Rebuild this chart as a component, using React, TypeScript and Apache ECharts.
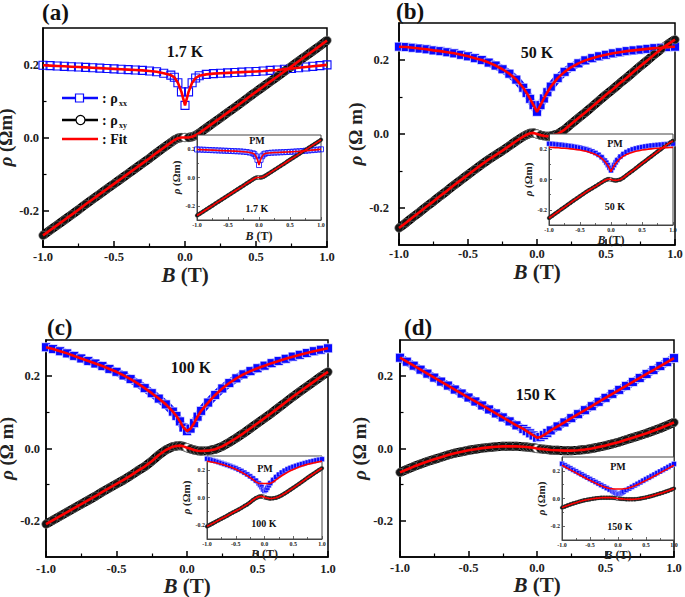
import React, { useEffect, useRef } from "react";
import * as echarts from "echarts";

const SERIF = "'Liberation Serif', 'Times New Roman', 'DejaVu Serif', serif";
const BLUE = "#0a0aff";
const RED = "#ff0000";

// Magnetic field grid (T)
const B = [-1, -0.95, -0.9, -0.85, -0.8, -0.75, -0.7, -0.65, -0.6, -0.55, -0.5, -0.45, -0.4, -0.35, -0.3, -0.25, -0.2, -0.15, -0.1,
  -0.075, -0.05, -0.025, 0, 0.025, 0.05, 0.075,
  0.1, 0.15, 0.2, 0.25, 0.3, 0.35, 0.4, 0.45, 0.5, 0.55, 0.6, 0.65, 0.7, 0.75, 0.8, 0.85, 0.9, 0.95, 1];

// (a) 1.7 K
const rxxA = [0.198, 0.197, 0.196, 0.195, 0.194, 0.193, 0.192, 0.191, 0.190, 0.189, 0.188, 0.187, 0.186, 0.185, 0.184, 0.182, 0.180, 0.176, 0.171,
  0.165, 0.150, 0.125, 0.088, 0.125, 0.150, 0.163,
  0.169, 0.173, 0.175, 0.176, 0.177, 0.178, 0.179, 0.180, 0.181, 0.182, 0.184, 0.185, 0.187, 0.189, 0.191, 0.193, 0.195, 0.197, 0.199];
const rxyA = [-0.268, -0.254, -0.240, -0.226, -0.212, -0.198, -0.183, -0.169, -0.155, -0.141, -0.127, -0.113, -0.099, -0.085, -0.071, -0.057, -0.042, -0.028, -0.014,
  -0.007, -0.002, 0.000, 0.000, 0.000, 0.002, 0.006,
  0.012, 0.026, 0.040, 0.054, 0.068, 0.082, 0.096, 0.111, 0.125, 0.139, 0.153, 0.167, 0.181, 0.195, 0.209, 0.223, 0.237, 0.251, 0.266];

// (b) 50 K
const rxxB = [0.236, 0.235, 0.233, 0.231, 0.229, 0.226, 0.224, 0.221, 0.218, 0.214, 0.210, 0.205, 0.200, 0.193, 0.185, 0.175, 0.163, 0.147, 0.125,
  0.111, 0.095, 0.078, 0.060, 0.078, 0.096, 0.113,
  0.128, 0.151, 0.168, 0.181, 0.191, 0.199, 0.205, 0.210, 0.214, 0.218, 0.221, 0.224, 0.226, 0.228, 0.230, 0.232, 0.233, 0.235, 0.236];
const rxyB = [-0.254, -0.240, -0.225, -0.211, -0.196, -0.182, -0.167, -0.153, -0.138, -0.124, -0.110, -0.096, -0.082, -0.069, -0.057, -0.045, -0.032, -0.019, -0.007,
  -0.002, 0.002, 0.003, 0.000, -0.003, -0.005, -0.006,
  -0.005, 0.000, 0.012, 0.028, 0.043, 0.058, 0.074, 0.090, 0.106, 0.121, 0.137, 0.152, 0.168, 0.184, 0.199, 0.215, 0.230, 0.243, 0.255];

// (c) 100 K
const rxxC = [0.280, 0.275, 0.269, 0.263, 0.256, 0.249, 0.242, 0.235, 0.228, 0.220, 0.212, 0.202, 0.192, 0.180, 0.167, 0.153, 0.138, 0.122, 0.102,
  0.090, 0.075, 0.058, 0.048, 0.055, 0.070, 0.088,
  0.104, 0.127, 0.148, 0.166, 0.181, 0.194, 0.205, 0.214, 0.222, 0.229, 0.236, 0.242, 0.248, 0.254, 0.259, 0.264, 0.269, 0.273, 0.277];
const rxyC = [-0.209, -0.198, -0.187, -0.176, -0.165, -0.154, -0.143, -0.132, -0.120, -0.109, -0.098, -0.087, -0.075, -0.062, -0.050, -0.035, -0.018, -0.004, 0.005,
  0.007, 0.008, 0.006, 0.002, -0.001, -0.004, -0.006,
  -0.007, -0.006, -0.002, 0.006, 0.017, 0.029, 0.042, 0.056, 0.070, 0.084, 0.098, 0.113, 0.128, 0.143, 0.157, 0.171, 0.185, 0.199, 0.212];

// (d) 150 K
const rxxD = [0.251, 0.240, 0.229, 0.218, 0.207, 0.196, 0.185, 0.174, 0.163, 0.152, 0.141, 0.130, 0.119, 0.108, 0.097, 0.086, 0.075, 0.064, 0.054,
  0.048, 0.042, 0.036, 0.030, 0.032, 0.037, 0.043,
  0.050, 0.061, 0.072, 0.084, 0.095, 0.106, 0.117, 0.129, 0.140, 0.151, 0.162, 0.173, 0.184, 0.195, 0.206, 0.217, 0.228, 0.239, 0.250];
const rxyD = [-0.066, -0.058, -0.050, -0.043, -0.036, -0.030, -0.024, -0.018, -0.013, -0.009, -0.005, -0.002, 0.001, 0.003, 0.005, 0.006, 0.006, 0.006, 0.005,
  0.004, 0.003, 0.002, 0.000, -0.001, -0.002, -0.003,
  -0.004, -0.005, -0.006, -0.006, -0.005, -0.003, 0.000, 0.004, 0.008, 0.013, 0.018, 0.024, 0.030, 0.036, 0.042, 0.049, 0.056, 0.064, 0.072];

// PM-model fits of rho_xx shown in the insets
const pmFitB = [0.212, 0.211, 0.210, 0.209, 0.207, 0.206, 0.204, 0.202, 0.200, 0.197, 0.194, 0.190, 0.186, 0.180, 0.173, 0.165, 0.154, 0.139, 0.119,
  0.106, 0.091, 0.073, 0.052, 0.073, 0.091, 0.106,
  0.119, 0.139, 0.154, 0.165, 0.173, 0.180, 0.186, 0.190, 0.194, 0.197, 0.200, 0.202, 0.204, 0.206, 0.207, 0.209, 0.210, 0.211, 0.212];
const pmFitC = [0.262, 0.259, 0.255, 0.251, 0.246, 0.241, 0.235, 0.228, 0.221, 0.213, 0.204, 0.194, 0.183, 0.171, 0.158, 0.144, 0.129, 0.113, 0.102,
  0.101, 0.101, 0.101, 0.101, 0.101, 0.101, 0.101,
  0.102, 0.112, 0.128, 0.143, 0.157, 0.170, 0.182, 0.193, 0.203, 0.212, 0.220, 0.227, 0.234, 0.240, 0.245, 0.250, 0.254, 0.258, 0.261];
const pmFitD = [0.240, 0.229, 0.218, 0.207, 0.196, 0.185, 0.174, 0.163, 0.152, 0.141, 0.131, 0.121, 0.111, 0.101, 0.092, 0.084, 0.077, 0.072, 0.070,
  0.069, 0.069, 0.069, 0.069, 0.069, 0.069, 0.069,
  0.070, 0.072, 0.077, 0.084, 0.092, 0.101, 0.111, 0.121, 0.131, 0.141, 0.152, 0.163, 0.174, 0.185, 0.196, 0.207, 0.218, 0.229, 0.240];

const xTicks = [-1, -0.5, 0, 0.5, 1];
const yMajor = [-0.2, 0, 0.2];
const yMinor = [-0.1, 0.1];

const panels = [
  {
    tag: "(a)", temp: "1.7 K", yUnit: "(Ωm)", rxx: rxxA, rxy: rxyA, insetFit: rxxA, lightBlue: true,
    main: { left: 43, top: 28, width: 284, height: 219, xm: 3.5, xg: 13, ym: 4, yg: 25 },
    inset: { left: 197, top: 135, width: 124, height: 85, xg: 10, yg: 9 },
    tagPos: [42, 1], tempPos: [185, 51], pmPos: [257, 140], itPos: [257, 208],
  },
  {
    tag: "(b)", temp: "50 K", yUnit: "(Ω m)", rxx: rxxB, rxy: rxyB, insetFit: pmFitB, lightBlue: false,
    main: { left: 399, top: 23, width: 276, height: 222, xm: 2.5, xg: 10, ym: 10, yg: 24 },
    inset: { left: 549, top: 134, width: 124, height: 91, xg: 6, yg: 5 },
    tagPos: [396, 0], tempPos: [537, 52], pmPos: [615, 143], itPos: [615, 206],
  },
  {
    tag: "(c)", temp: "100 K", yUnit: "(Ω m)", rxx: rxxC, rxy: rxyC, insetFit: pmFitC, lightBlue: false,
    main: { left: 46, top: 340, width: 282, height: 217, xm: 5, xg: 17, ym: 6, yg: 24 },
    inset: { left: 207, top: 456, width: 115, height: 83, xg: 4, yg: 3 },
    tagPos: [47, 316], tempPos: [191, 367], pmPos: [265, 468], itPos: [264, 523],
  },
  {
    tag: "(d)", temp: "150 K", yUnit: "(Ω m)", rxx: rxxD, rxy: rxyD, insetFit: pmFitD, lightBlue: false,
    main: { left: 400, top: 340, width: 274, height: 217, xm: 4, xg: 17, ym: 7, yg: 25 },
    inset: { left: 562, top: 457, width: 112, height: 83, xg: 6, yg: 10 },
    tagPos: [404, 316], tempPos: [536, 394], pmPos: [618, 466], itPos: [620, 526],
  },
];

const pts = (arr: number[]) => arr.map((v, i) => [B[i], v]);

function buildOption() {
  const grids: any[] = [];
  const xAxes: any[] = [];
  const yAxes: any[] = [];
  const series: any[] = [];
  const graphics: any[] = [];

  panels.forEach((p) => {
    [false, true].forEach((isInset) => {
      const g = grids.length;
      const L: any = isInset ? p.inset : p.main;
      const lineColor = isInset ? "#444" : "#000";
      const lw = isInset ? 1 : 1.5;
      const zA = isInset ? 11 : 1;
      grids.push({
        left: L.left, top: L.top, width: L.width, height: L.height,
        show: true, borderColor: lineColor, borderWidth: lw, backgroundColor: "#fff",
        z: isInset ? 10 : 0, containLabel: false, outerBoundsMode: "none",
      });
      const nameFs = isInset ? 12 : 21;
      const yNameFs = isInset ? 11 : 19;
      const labFs = isInset ? 6 : 12.5;
      xAxes.push({
        gridIndex: g, type: "value", min: -1, max: 1, interval: 0.5, z: zA,
        axisLine: { onZero: false, lineStyle: { color: lineColor, width: lw } },
        axisTick: { inside: true, length: isInset ? 3 : 6, lineStyle: { color: lineColor, width: isInset ? 0.8 : 1.5 } },
        minorTick: { show: true, splitNumber: 2, length: isInset ? 2 : 3.5, lineStyle: { color: lineColor, width: isInset ? 0.8 : 1.2 } },
        splitLine: { show: false },
        minorSplitLine: { show: false },
        axisLabel: {
          customValues: xTicks,
          margin: isInset ? 2 : L.xm, fontFamily: SERIF, fontWeight: "bold", fontSize: labFs, color: "#222",
          formatter: (v: number) => v.toFixed(1),
        },
        name: "{i|B} {n|(T)}", nameLocation: "middle", nameGap: L.xg,
        nameTextStyle: {
          fontFamily: SERIF, fontWeight: "bold", fontSize: nameFs, color: "#222",
          rich: {
            i: { fontFamily: SERIF, fontWeight: "bold", fontStyle: "italic", fontSize: nameFs, color: "#222" },
            n: { fontFamily: SERIF, fontWeight: "bold", fontSize: nameFs, color: "#222" },
          },
        },
      });
      yAxes.push({
        gridIndex: g, type: "value", position: "left", min: -0.3, max: 0.3, z: zA,
        axisLine: { onZero: false, lineStyle: { color: lineColor, width: lw } },
        axisTick: { inside: true, customValues: yMajor, length: isInset ? 3 : 6, lineStyle: { color: lineColor, width: isInset ? 0.8 : 1.5 } },
        axisLabel: {
          customValues: yMajor,
          margin: isInset ? 2 : L.ym, fontFamily: SERIF, fontWeight: "bold", fontSize: labFs, color: "#222",
          formatter: (v: number) => v.toFixed(1),
        },
        splitLine: { show: false },
        name: "{i|ρ} {n|" + (isInset ? "(Ωm)" : p.yUnit) + "}", nameLocation: "middle", nameGap: L.yg,
        nameTextStyle: {
          fontFamily: SERIF, fontWeight: "bold", fontSize: yNameFs, color: "#222",
          rich: {
            i: { fontFamily: SERIF, fontWeight: "bold", fontStyle: "italic", fontSize: yNameFs, color: "#222" },
            n: { fontFamily: SERIF, fontWeight: "bold", fontSize: yNameFs, color: "#222" },
          },
        },
      });
      yAxes.push({
        gridIndex: g, type: "value", position: "left", min: -0.3, max: 0.3, z: zA,
        axisLine: { show: false, onZero: false },
        axisTick: { inside: true, customValues: yMinor, length: isInset ? 2 : 3.5, lineStyle: { color: lineColor, width: isInset ? 0.8 : 1.2 } },
        axisLabel: { show: false },
        splitLine: { show: false },
      });

      const yi = 2 * g;
      const zS = isInset ? 12 : 2;
      const sq = isInset ? 5 : 9;
      const band = p.lightBlue ? 0 : isInset ? 4.5 : 8;
      // rho_xx data (blue squares)
      series.push({
        type: "line", xAxisIndex: g, yAxisIndex: yi, data: pts(p.rxx), z: zS,
        symbol: "rect", symbolSize: p.lightBlue && !isInset ? 8 : sq, showSymbol: true, showAllSymbol: true, silent: true,
        emphasis: { disabled: true },
        lineStyle: { color: BLUE, width: band, opacity: band ? 1 : 0 },
        itemStyle: p.lightBlue
          ? { color: "rgba(255,255,255,0)", borderColor: BLUE, borderWidth: isInset ? 0.8 : 1.1 }
          : { color: BLUE, borderColor: "rgba(255,255,255,0.85)", borderWidth: isInset ? 0.5 : 0.8 },
      });
      // rho_xy data (black circles)
      series.push({
        type: "line", xAxisIndex: g, yAxisIndex: yi, z: zS,
        data: pts(p.rxy).map((d, i) =>
          B[i] === 0 ? { value: d, itemStyle: { color: "#fff", borderColor: "#777", borderWidth: 1 } } : d),
        symbol: "circle", symbolSize: isInset ? 4 : 8.5, showSymbol: true, showAllSymbol: true, silent: true,
        emphasis: { disabled: true },
        lineStyle: { color: "#000", width: isInset ? 4 : 9 },
        itemStyle: { color: "#151515", borderColor: "#8a8a8a", borderWidth: isInset ? 0.3 : 0.6 },
      });
      // fits
      const fitXx = isInset ? p.insetFit : p.rxx;
      [fitXx, p.rxy].forEach((arr) => {
        series.push({
          type: "line", xAxisIndex: g, yAxisIndex: yi, data: pts(arr), z: zS + 1,
          symbol: "none", showSymbol: false, silent: true, emphasis: { disabled: true },
          lineStyle: { color: RED, width: isInset ? 1.6 : 2.6 },
        });
      });
    });

    const txt = (x: number, y: number, text: string, fs: number, align = "center", va = "middle") => ({
      type: "text", x, y, z: 50, silent: true,
      style: {
        text, fontSize: fs, fontFamily: SERIF, fontWeight: "bold", fill: "#111",
        align, verticalAlign: va, textAlign: align, textVerticalAlign: va,
      },
    });
    graphics.push(txt(p.tagPos[0], p.tagPos[1], p.tag, 23, "left", "top"));
    graphics.push(txt(p.tempPos[0], p.tempPos[1], p.temp, 16));
    graphics.push(txt(p.pmPos[0], p.pmPos[1], "PM", 10));
    graphics.push(txt(p.itPos[0], p.itPos[1], p.temp, 10));
  });

  // Legend of panel (a)
  const lg = (x: number, y: number, text: string, fs: number) => ({
    type: "text", x, y, z: 50, silent: true,
    style: { text, fontSize: fs, fontFamily: SERIF, fontWeight: "bold", fill: "#111", align: "left", verticalAlign: "middle", textAlign: "left", textVerticalAlign: "middle" },
  });
  graphics.push(
    { type: "line", z: 50, shape: { x1: 62, y1: 98, x2: 98, y2: 98 }, style: { stroke: BLUE, lineWidth: 2.5 } },
    { type: "rect", z: 51, shape: { x: 75.5, y: 94, width: 8, height: 8 }, style: { fill: "#fff", stroke: BLUE, lineWidth: 1.2 } },
    lg(102, 98, ": ρ", 14), lg(119, 103, "xx", 8),
    { type: "line", z: 50, shape: { x1: 62, y1: 120, x2: 98, y2: 120 }, style: { stroke: "#000", lineWidth: 2.5 } },
    { type: "circle", z: 51, shape: { cx: 80.5, cy: 120, r: 4.5 }, style: { fill: "#fff", stroke: "#000", lineWidth: 1.2 } },
    lg(102, 120, ": ρ", 14), lg(119, 125, "xy", 8),
    { type: "line", z: 50, shape: { x1: 62, y1: 139, x2: 98, y2: 139 }, style: { stroke: RED, lineWidth: 2.5 } },
    lg(102, 139, ": Fit", 14),
  );

  return {
    animation: false,
    backgroundColor: "#fff",
    grid: grids,
    xAxis: xAxes,
    yAxis: yAxes,
    series,
    graphic: { elements: graphics },
  };
}

export default function App() {
  const ref = useRef<HTMLDivElement>(null);
  useEffect(() => {
    if (!ref.current) return;
    const chart = echarts.init(ref.current, undefined, { renderer: "svg" });
    chart.setOption(buildOption() as any);
    return () => chart.dispose();
  }, []);
  return <div ref={ref} style={{ position: "absolute", left: 0, top: 0, width: 685, height: 597 }} />;
}
